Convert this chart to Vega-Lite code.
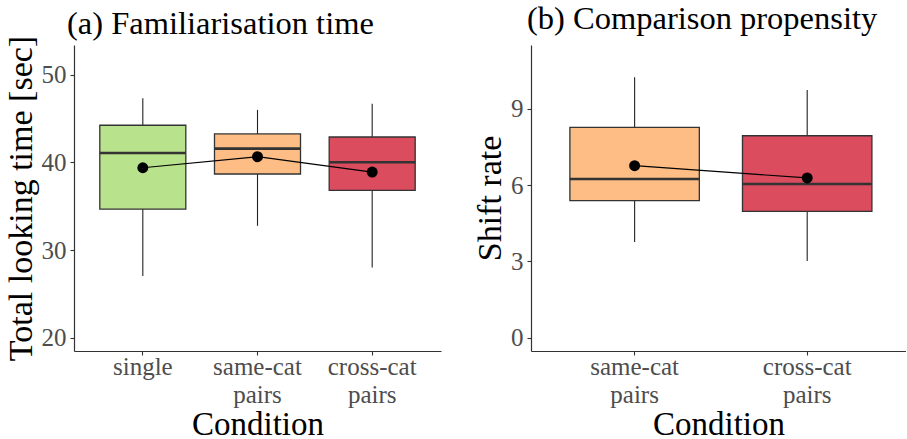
{
  "$schema": "https://vega.github.io/schema/vega-lite/v6.json",
  "background": "white",
  "padding": {"left": 3, "top": 2, "right": 0, "bottom": 0},
  "bounds": "flush",
  "spacing": 90,
  "datasets": {
    "fam": [
      {"cond": "single", "lower": 27.06, "q1": 34.69, "median": 41.09, "q3": 44.25, "upper": 47.33, "mean": 39.4},
      {"cond": "same-cat pairs", "lower": 32.78, "q1": 38.69, "median": 41.58, "q3": 43.26, "upper": 46.0, "mean": 40.66},
      {"cond": "cross-cat pairs", "lower": 28.01, "q1": 36.82, "median": 40.02, "q3": 42.91, "upper": 46.69, "mean": 38.91}
    ],
    "shift": [
      {"cond": "same-cat pairs", "lower": 3.76, "q1": 5.39, "median": 6.24, "q3": 8.27, "upper": 10.24, "mean": 6.76},
      {"cond": "cross-cat pairs", "lower": 3.01, "q1": 4.96, "median": 6.04, "q3": 7.94, "upper": 9.74, "mean": 6.28}
    ]
  },
  "config": {
    "view": {"stroke": null},
    "font": "Liberation Serif",
    "axis": {
      "grid": false,
      "domainColor": "#333333",
      "domainWidth": 1.2,
      "tickColor": "#333333",
      "tickWidth": 1.1,
      "tickSize": 4,
      "labelFont": "Liberation Serif",
      "labelFontSize": 25,
      "labelColor": "#4D4D4D",
      "labelPadding": 4,
      "titleFont": "Liberation Serif",
      "titleFontSize": 34,
      "titleFontWeight": "normal",
      "titleColor": "#000000"
    },
    "title": {
      "font": "Liberation Serif",
      "fontSize": 32.5,
      "fontWeight": "normal",
      "color": "#000000",
      "anchor": "start",
      "frame": "group",
      "baseline": "alphabetic"
    }
  },
  "hconcat": [
    {
      "title": {"text": "(a) Familiarisation time", "dx": -7, "offset": -5},
      "width": 367,
      "height": 306,
      "data": {"name": "fam"},
      "encoding": {
        "x": {
          "field": "cond", "type": "nominal",
          "sort": ["single", "same-cat pairs", "cross-cat pairs"],
          "scale": {"paddingInner": 0.25, "paddingOuter": 0.225},
          "axis": {"title": "Condition", "titleFontSize": 33, "labelAngle": 0, "labelExpr": "split(datum.label, ' ')", "labelLineHeight": 28, "labelPadding": -1, "titlePadding": 1}
        }
      },
      "layer": [
        {
          "mark": {"type": "rule", "color": "#222222", "strokeWidth": 1.1},
          "encoding": {
            "y": {"field": "lower", "type": "quantitative", "scale": {"domain": [18.5, 53.4], "nice": false, "zero": false}, "axis": {"title": "Total looking time [sec]", "values": [20, 30, 40, 50], "titlePadding": 3}},
            "y2": {"field": "upper"}
          }
        },
        {
          "mark": {"type": "bar", "stroke": "#333333", "strokeWidth": 1.3},
          "encoding": {
            "y": {"field": "q1", "type": "quantitative"},
            "y2": {"field": "q3"},
            "color": {"field": "cond", "type": "nominal", "legend": null,
              "scale": {"domain": ["single", "same-cat pairs", "cross-cat pairs"], "range": ["#B9E28C", "#FDBD84", "#DA4C5E"]}}
          }
        },
        {
          "mark": {"type": "tick", "orient": "horizontal", "color": "#333333", "thickness": 2.6, "size": 86, "opacity": 1},
          "encoding": {"y": {"field": "median", "type": "quantitative"}}
        },
        {
          "mark": {"type": "line", "color": "#000000", "strokeWidth": 1.2},
          "encoding": {"y": {"field": "mean", "type": "quantitative"}}
        },
        {
          "mark": {"type": "point", "filled": true, "color": "#000000", "size": 120, "opacity": 1},
          "encoding": {"y": {"field": "mean", "type": "quantitative"}}
        }
      ]
    },
    {
      "title": {"text": "(b) Comparison propensity", "dx": -4, "offset": 10},
      "width": 375,
      "height": 306,
      "data": {"name": "shift"},
      "encoding": {
        "x": {
          "field": "cond", "type": "nominal",
          "sort": ["same-cat pairs", "cross-cat pairs"],
          "scale": {"paddingInner": 0.25, "paddingOuter": 0.2114, "align": 0.533},
          "axis": {"title": "Condition", "titleFontSize": 33, "labelAngle": 0, "labelExpr": "split(datum.label, ' ')", "labelLineHeight": 28, "labelPadding": -1, "titlePadding": 1}
        }
      },
      "layer": [
        {
          "mark": {"type": "rule", "color": "#222222", "strokeWidth": 1.1},
          "encoding": {
            "y": {"field": "lower", "type": "quantitative", "scale": {"domain": [-0.53, 11.51], "nice": false, "zero": false}, "axis": {"title": "Shift rate", "values": [0, 3, 6, 9], "titlePadding": 3}},
            "y2": {"field": "upper"}
          }
        },
        {
          "mark": {"type": "bar", "stroke": "#333333", "strokeWidth": 1.3},
          "encoding": {
            "y": {"field": "q1", "type": "quantitative"},
            "y2": {"field": "q3"},
            "color": {"field": "cond", "type": "nominal", "legend": null,
              "scale": {"domain": ["same-cat pairs", "cross-cat pairs"], "range": ["#FDBD84", "#DA4C5E"]}}
          }
        },
        {
          "mark": {"type": "tick", "orient": "horizontal", "color": "#333333", "thickness": 2.6, "size": 129.5, "opacity": 1},
          "encoding": {"y": {"field": "median", "type": "quantitative"}}
        },
        {
          "mark": {"type": "line", "color": "#000000", "strokeWidth": 1.2},
          "encoding": {"y": {"field": "mean", "type": "quantitative"}}
        },
        {
          "mark": {"type": "point", "filled": true, "color": "#000000", "size": 120, "opacity": 1},
          "encoding": {"y": {"field": "mean", "type": "quantitative"}}
        }
      ]
    }
  ],
  "resolve": {"scale": {"color": "independent", "y": "independent", "x": "independent"}}
}
